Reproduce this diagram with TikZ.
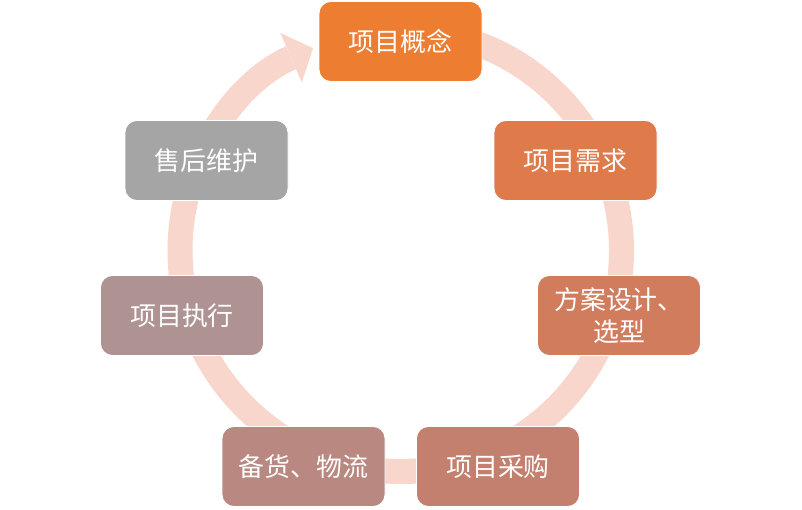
\documentclass[tikz,border=0pt]{standalone}
\usepackage{fontspec}
\newfontfamily\cjk{Noto Sans CJK SC}
\usepackage{xcolor}
\usepackage{tikz}
\usetikzlibrary{arrows.meta, positioning}

\definecolor{ringpink}{HTML}{F8D6CC}
\definecolor{stageA}{HTML}{ED7D31}
\definecolor{stageB}{HTML}{DF7B4A}
\definecolor{stageC}{HTML}{D27C5E}
\definecolor{stageD}{HTML}{C4806F}
\definecolor{stageE}{HTML}{B98880}
\definecolor{stageF}{HTML}{AE9392}
\definecolor{stageG}{HTML}{A5A5A5}

\begin{document}
\begin{tikzpicture}[x=1bp, y=1bp,
		stage/.style={draw=white, line width=0.8bp, rounded corners=12bp, minimum width=163bp, minimum height=80bp, inner sep=0pt, align=center, text=white, font=\cjk\fontsize{26}{32}\selectfont}]
			% Frame and ring:
			\useasboundingbox (0, 0) rectangle (802, 510);
			\coordinate (C) at (400.75, 259.25);
			\draw[ringpink, line width=25bp, -{Triangle[width=54bp, length=24bp, line width=0pt]}] (C) ++(85:220.75bp) arc[start angle=85, end angle=-246.6, radius=220.75bp];
			% Stages:
			\node[stage, fill=stageA](N1) at (400.5, 468.5){项目概念};
			\node[stage, fill=stageB](N2) at (575.5, 349.5){项目需求};
			\node[stage, fill=stageC](N3) at (619, 194.5){方案设计、\\选型};
			\node[stage, fill=stageD](N4) at (498, 43.5){项目采购};
			\node[stage, fill=stageE](N5) at (303.5, 43.5){备货、物流};
			\node[stage, fill=stageF](N6) at (182, 194.5){项目执行};
			\node[stage, fill=stageG](N7) at (206.5, 349.5){售后维护};
		\end{tikzpicture}
\end{document}
